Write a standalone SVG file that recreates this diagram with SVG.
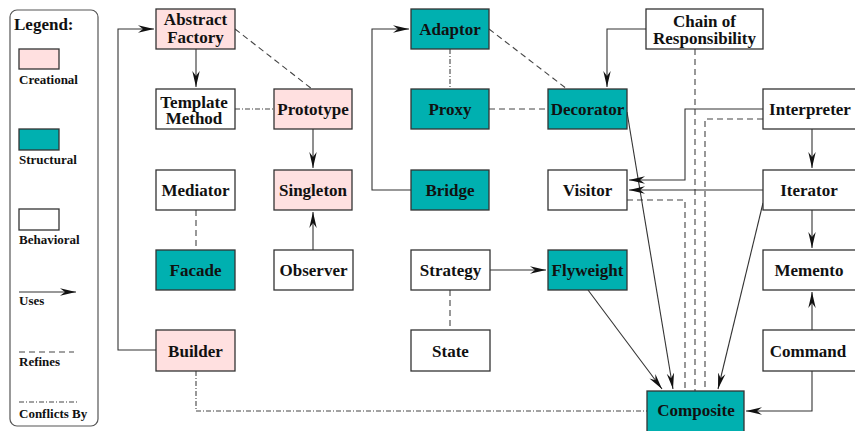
<svg xmlns="http://www.w3.org/2000/svg" width="855" height="431" viewBox="0 0 855 431">
<style>
.box{stroke:#333;stroke-width:1.3}
.cre{fill:#ffe0e0}
.str{fill:#00b0b0}
.beh{fill:#fff}
.t{font-family:"Liberation Serif","Times New Roman",serif;font-weight:bold;font-size:17px;fill:#111;text-anchor:middle}
.lt{font-family:"Liberation Serif","Times New Roman",serif;font-weight:bold;font-size:13px;fill:#111}
.uses{fill:none;stroke:#333;stroke-width:1.1;marker-end:url(#ah)}
.ref{fill:none;stroke:#444;stroke-width:1.1;stroke-dasharray:6,4}
.con{fill:none;stroke:#444;stroke-width:1.1;stroke-dasharray:5,2,1,2}
</style>
<defs>
<marker id="ah" viewBox="0 0 16 10" refX="16" refY="5" markerWidth="16" markerHeight="10" markerUnits="userSpaceOnUse" orient="auto">
<path d="M0,1.3 L16,5 L0,8.7 L5,5 Z" fill="#111"/>
</marker>
</defs>
<rect width="855" height="431" fill="#fff"/>

<g id="legend">
<rect x="10" y="10" width="88" height="416" rx="7" fill="#fff" stroke="#555" stroke-width="1.2"/>
<text x="14" y="30" class="lt" style="font-size:17px">Legend:</text>
<rect x="19" y="49" width="40" height="20" class="box cre"/>
<text x="19" y="84" class="lt">Creational</text>
<rect x="19" y="129" width="40" height="21" class="box str"/>
<text x="19" y="164" class="lt">Structural</text>
<rect x="19" y="209" width="40" height="21" class="box beh"/>
<text x="19" y="244" class="lt">Behavioral</text>
<line x1="19" y1="292" x2="76" y2="292" class="uses"/>
<text x="19" y="305" class="lt">Uses</text>
<line x1="19" y1="352" x2="74" y2="352" class="ref"/>
<text x="19" y="366" class="lt">Refines</text>
<line x1="19" y1="402" x2="77" y2="402" class="con"/>
<text x="19" y="418" class="lt">Conflicts By</text>
</g>

<g id="connectors">
<polyline points="156,350 118,350 118,29 154,29" class="uses"/>
<line x1="196" y1="49" x2="196" y2="87" class="uses"/>
<line x1="235" y1="29" x2="312" y2="89" class="ref"/>
<line x1="235" y1="109" x2="274" y2="109" class="con"/>
<line x1="313" y1="129" x2="313" y2="168" class="uses"/>
<line x1="196" y1="210" x2="196" y2="250" class="ref"/>
<line x1="313" y1="250" x2="313" y2="212" class="uses"/>
<polyline points="196,371 196,411 647,411" class="con"/>
<polyline points="411,190 372,190 372,29 409,29" class="uses"/>
<line x1="450" y1="49" x2="450" y2="89" class="con"/>
<line x1="489" y1="29" x2="567" y2="89" class="ref"/>
<line x1="489" y1="109" x2="548" y2="109" class="ref"/>
<polyline points="646,29 607,29 607,87" class="uses"/>
<line x1="695" y1="49" x2="695" y2="391" class="ref"/>
<polyline points="763,119 705,119 705,391" class="ref"/>
<polyline points="627,200 685,200 685,391" class="ref"/>
<line x1="627" y1="112" x2="673" y2="389" class="uses"/>
<line x1="588" y1="290" x2="662" y2="389" class="uses"/>
<polyline points="763,109 685,109 685,180 629,180" class="uses"/>
<line x1="763" y1="190" x2="629" y2="190" class="uses"/>
<line x1="812" y1="129" x2="812" y2="168" class="uses"/>
<line x1="763" y1="203" x2="718" y2="389" class="uses"/>
<line x1="812" y1="210" x2="812" y2="248" class="uses"/>
<line x1="812" y1="330" x2="812" y2="292" class="uses"/>
<polyline points="812,371 812,411 746,411" class="uses"/>
<line x1="490" y1="270" x2="546" y2="270" class="uses"/>
<line x1="450" y1="290" x2="450" y2="330" class="ref"/>
</g>

<g id="abstract-factory"><rect x="156" y="9" width="79" height="40" class="box cre"/><text x="195.5" y="24.5" class="t">Abstract</text><text x="195.5" y="42.5" class="t">Factory</text></g>
<g id="template-method"><rect x="156" y="89" width="79" height="40" class="box beh"/><text x="194" y="107.5" class="t">Template</text><text x="194" y="123.5" class="t">Method</text></g>
<g id="prototype"><rect x="274" y="89" width="78" height="40" class="box cre"/><text x="313" y="114.5" class="t">Prototype</text></g>
<g id="mediator"><rect x="156" y="170" width="79" height="40" class="box beh"/><text x="195.5" y="195.5" class="t">Mediator</text></g>
<g id="singleton"><rect x="274" y="170" width="78" height="40" class="box cre"/><text x="313" y="195.5" class="t">Singleton</text></g>
<g id="facade"><rect x="156" y="250" width="79" height="40" class="box str"/><text x="195.5" y="275.5" class="t">Facade</text></g>
<g id="observer"><rect x="274" y="250" width="79" height="40" class="box beh"/><text x="313.5" y="275.5" class="t">Observer</text></g>
<g id="builder"><rect x="156" y="330" width="79" height="41" class="box cre"/><text x="195.5" y="356.5" class="t">Builder</text></g>
<g id="adaptor"><rect x="411" y="9" width="78" height="40" class="box str"/><text x="450" y="34.5" class="t">Adaptor</text></g>
<g id="proxy"><rect x="411" y="89" width="78" height="40" class="box str"/><text x="450" y="114.5" class="t">Proxy</text></g>
<g id="bridge"><rect x="411" y="170" width="78" height="40" class="box str"/><text x="450" y="195.5" class="t">Bridge</text></g>
<g id="strategy"><rect x="411" y="250" width="79" height="40" class="box beh"/><text x="450.5" y="275.5" class="t">Strategy</text></g>
<g id="state"><rect x="411" y="330" width="79" height="41" class="box beh"/><text x="450.5" y="356.5" class="t">State</text></g>
<g id="decorator"><rect x="548" y="89" width="79" height="40" class="box str"/><text x="587.5" y="114.5" class="t">Decorator</text></g>
<g id="visitor"><rect x="548" y="170" width="79" height="40" class="box beh"/><text x="587.5" y="195.5" class="t">Visitor</text></g>
<g id="flyweight"><rect x="548" y="250" width="79" height="40" class="box str"/><text x="587.5" y="275.5" class="t">Flyweight</text></g>
<g id="chain-of-responsibility"><rect x="646" y="9" width="117" height="40" class="box beh"/><text x="704.5" y="27" class="t">Chain of</text><text x="704.5" y="43.5" class="t">Responsibility</text></g>
<g id="interpreter"><rect x="763" y="89" width="95" height="40" class="box beh"/><text x="810" y="114.5" class="t">Interpreter</text></g>
<g id="iterator"><rect x="763" y="170" width="95" height="40" class="box beh"/><text x="809" y="195.5" class="t">Iterator</text></g>
<g id="memento"><rect x="763" y="250" width="95" height="40" class="box beh"/><text x="809" y="275.5" class="t">Memento</text></g>
<g id="command"><rect x="763" y="330" width="95" height="41" class="box beh"/><text x="808" y="356.5" class="t">Command</text></g>
<g id="composite"><rect x="647" y="391" width="97" height="42" class="box str"/><text x="696" y="415.5" class="t">Composite</text></g>
</svg>
